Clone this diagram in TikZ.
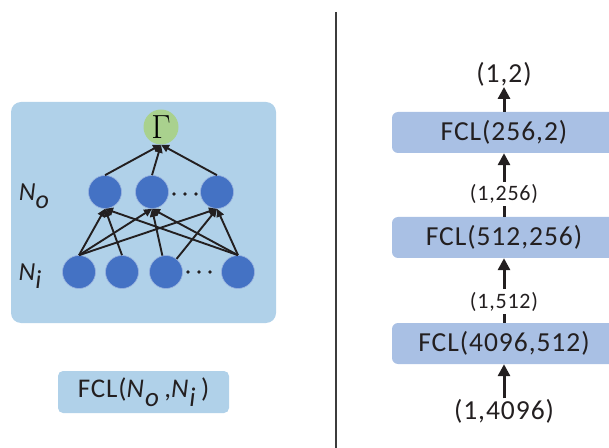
\documentclass[tikz,border=0pt]{standalone}
\usepackage{graphicx}
\usepackage{fontspec}
\setmainfont{Carlito}[LetterSpace=3.5]
\usetikzlibrary{arrows.meta}

\definecolor{panelblue}{HTML}{B0D1E9}
\definecolor{neuronblue}{HTML}{4472C4}
\definecolor{outgreen}{HTML}{A9D18E}
\definecolor{layerblue}{HTML}{A9C0E4}
\definecolor{ink}{HTML}{231F20}
\definecolor{rulegray}{HTML}{3C3C3C}

\newcommand{\sublow}[1]{\raisebox{-0.32em}{\textit{#1}}}

\tikzset{
  neuron/.style={circle, fill=neuronblue, draw=neuronblue!55!white, line width=0.6bp,
    minimum size=33bp, inner sep=0},
  outnode/.style={circle, fill=outgreen, minimum size=35bp, inner sep=0,
    font=\fontsize{24bp}{26bp}\selectfont},
  link/.style={ink, line width=1.9bp, -{Triangle[length=8bp,width=7.5bp]}},
  dotmark/.style={ink, fill=ink},
  layer/.style={rounded corners=6bp, fill=layerblue, minimum width=224bp,
    minimum height=41bp, inner sep=0, text=ink, font=\fontsize{27.5bp}{30bp}\selectfont},
  dimbig/.style={text=ink, inner sep=0, font=\fontsize{27.5bp}{30bp}\selectfont},
  dimsmall/.style={text=ink, inner xsep=2bp, inner ysep=2bp, font=\fontsize{22bp}{24bp}\selectfont},
  flow/.style={ink, line width=3bp, -{Triangle[length=12bp,width=12bp]}},
  flowplain/.style={ink, line width=3bp},
  sidelabel/.style={text=ink, inner sep=0, font=\fontsize{26bp}{28bp}\selectfont\itshape},
}

\begin{document}
\begin{tikzpicture}[x=1bp, y=-1bp]
  \useasboundingbox (0,0) rectangle (609,448);
  \clip (0,0) rectangle (609,448);

  % ---- left: a fully connected layer ----
  \fill[panelblue, rounded corners=10bp] (11,102) rectangle (276,323);

  \node[outnode] (G) at (161,127) {\scalebox{1.35}{$\Gamma$}};

  \node[neuron] (o1) at (105,192) {};
  \node[neuron] (o2) at (152,192) {};
  \node[neuron] (o3) at (217,192) {};

  \node[neuron] (i1) at (79,272) {};
  \node[neuron] (i2) at (122,272) {};
  \node[neuron] (i3) at (166,272) {};
  \node[neuron] (i4) at (238,272) {};

  \foreach \x in {174,185,196} \fill[dotmark] (\x,194) circle (1.9bp);
  \foreach \x in {188,199,210} \fill[dotmark] (\x,272) circle (1.9bp);

  \node[sidelabel] (No) at (34,196) {N\sublow{o}};
  \node[sidelabel] (Ni) at (30,276) {N\sublow{i}};

  % output layer to the result node
  \foreach \n in {o1,o2,o3} \draw[link] (\n.north) -- (G.south);

  % input layer to output layer
  \foreach \n in {o1,o2,o3} \draw[link] (i1.north) -- (\n.south);
  \draw[link] (i2.north) -- (o1.south);
  \draw[link] (i3) -- (o2.south);
  \draw[link] (i3) -- (o3.south);
  \foreach \n in {o1,o2,o3} \draw[link] (i4.north) -- (\n.south);

  \node[rounded corners=5bp, fill=panelblue, minimum width=171bp, minimum height=42bp,
        inner sep=0, text=ink, font=\fontsize{27bp}{29bp}\selectfont] (sig) at (143.5,392)
        {FCL(\textit{N}\sublow{o}\,,\textit{N}\sublow{i}\,)};

  % ---- separator ----
  \draw[rulegray, line width=2bp] (336,12) -- (336,448);

  % ---- right: stack of fully connected layers ----
  \node[layer] (b1) at (504,132.5) {FCL(256,2)};
  \node[layer] (b2) at (504,237.5) {FCL(512,256)};
  \node[layer] (b3) at (504,343.5) {FCL(4096,512)};

  \node[dimbig, anchor=south] (out) at (504,87) {(1,2)};
  \node[dimsmall] (d1) at (504,194) {(1,256)};
  \node[dimsmall, inner ysep=3bp] (d2) at (504,301.5) {(1,512)};
  \node[dimbig, inner ysep=1bp] (in) at (504,411.5) {(1,4096)};

  \draw[flow] (b1.north) -- (out.south);
  \draw[flowplain] (b2.north) -- (d1.south);
  \draw[flow] (d1.north) -- (b1.south);
  \draw[flowplain] (b3.north) -- (d2.south);
  \draw[flow] (d2.north) -- (b2.south);
  \draw[flow] (in.north) -- (b3.south);
\end{tikzpicture}
\end{document}
